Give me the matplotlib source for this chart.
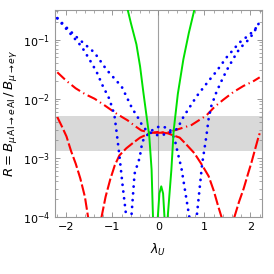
import numpy as np
import matplotlib
matplotlib.use("Agg")
import matplotlib.pyplot as plt
from matplotlib.ticker import LogLocator, MultipleLocator, NullFormatter

# red long dash
lam_dash = [-2.2, -2.1, -2.0, -1.9, -1.8, -1.7, -1.6, -1.5, -1.45, -1.39, -1.33, -1.25,
            -1.15, -1.05, -0.95, -0.85, -0.7, -0.55, -0.4, -0.2, 0.0, 0.2, 0.46, 0.6,
            0.78, 0.95, 1.09, 1.2, 1.3, 1.37, 1.45, 1.51, 1.58, 1.65, 1.75, 1.85, 1.95,
            2.02, 2.1, 2.17, 2.2]
r_dash = [4.9e-3, 3.4e-3, 2.3e-3, 1.3e-3, 8.0e-4, 4.5e-4, 2.2e-4, 7e-5, 2.5e-5, 3e-6,
          2.5e-5, 9e-5, 2.2e-4, 4.3e-4, 7.5e-4, 1.1e-3, 1.45e-3, 1.8e-3, 2.2e-3, 2.6e-3,
          2.75e-3, 2.6e-3, 2.2e-3, 1.7e-3, 1.2e-3, 7.5e-4, 4.9e-4, 2.8e-4, 1.5e-4, 1e-4,
          2.5e-5, 3e-6, 3e-5, 1e-4, 1.8e-4, 3e-4, 5.5e-4, 8.3e-4, 1.4e-3, 2.2e-3, 2.6e-3]

# red dash-dot
lam_dd = [-2.2, -2.0, -1.8, -1.6, -1.39, -1.2, -1.07, -0.9, -0.67, -0.5, -0.37, -0.2,
          0.0, 0.2, 0.4, 0.72, 1.04, 1.22, 1.4, 1.63, 1.85, 2.05, 2.2]
r_dd = [2.8e-2, 2.0e-2, 1.5e-2, 1.2e-2, 1.0e-2, 8e-3, 6.8e-3, 5.5e-3, 4.3e-3, 3.4e-3,
        2.9e-3, 2.7e-3, 2.65e-3, 2.7e-3, 3.0e-3, 3.6e-3, 5.2e-3, 7.3e-3, 9.5e-3,
        1.3e-2, 1.65e-2, 1.95e-2, 2.3e-2]

# blue dotted, steep one (two dips)
lam_blue1 = [-2.2, -2.0, -1.85, -1.67, -1.5, -1.35, -1.22, -1.07, -0.96, -0.91, -0.85,
             -0.78, -0.7, -0.64, -0.59, -0.52, -0.48, -0.41, -0.35, -0.2, -0.09, 0.02,
             0.13, 0.24, 0.35, 0.41, 0.5, 0.67, 0.75, 0.83, 0.95, 1.04, 1.09, 1.15,
             1.26, 1.37, 1.48, 1.63, 1.76, 1.96, 2.07, 2.13, 2.2]
r_blue1 = [0.23, 0.15, 0.11, 0.076, 0.046, 0.029, 0.017, 0.01, 5.4e-3, 2.7e-3, 1.1e-3,
           3.4e-4, 1e-4, 5e-6, 1e-4, 5.4e-4, 6.8e-4, 1e-3, 1.9e-3, 2.7e-3, 3.1e-3, 3.4e-3,
           3.3e-3, 3.1e-3, 2.1e-3, 1.3e-3, 6.6e-4, 1e-4, 5e-6, 1e-4, 8e-4, 2.3e-3, 4.6e-3,
           7.6e-3, 0.013, 0.02, 0.03, 0.048, 0.07, 0.1, 0.13, 0.16, 0.2]

# blue dotted, shallow one
lam_blue2 = [-2.2, -2.0, -1.78, -1.39, -1.13, -0.8, -0.57, -0.46, -0.35, -0.26, -0.1,
             0.0, 0.15, 0.3, 0.41, 0.52, 0.63, 0.83, 1.09, 1.26, 1.48, 1.63, 1.76, 1.91,
             2.07, 2.2]
r_blue2 = [0.23, 0.16, 0.11, 0.06, 0.031, 0.016, 6.8e-3, 5e-3, 3.5e-3, 2.9e-3, 2.5e-3,
           2.4e-3, 2.5e-3, 2.8e-3, 3.1e-3, 4.6e-3, 6.3e-3, 0.011, 0.02, 0.029, 0.05,
           0.068, 0.089, 0.11, 0.14, 0.19]

# green solid
lam_green = [-0.72, -0.67, -0.6, -0.48, -0.4, -0.33, -0.26, -0.2, -0.15, -0.12, -0.08,
             -0.015, 0.02, 0.06, 0.1, 0.13, 0.16, 0.2, 0.28, 0.33, 0.42, 0.54, 0.66,
             0.78, 0.83]
r_green = [0.5, 0.32, 0.19, 0.083, 0.035, 0.013, 5.1e-3, 2.3e-3, 6.3e-4, 1e-4, 1e-6,
           1e-4, 2.5e-4, 3.3e-4, 2.5e-4, 1e-4, 1e-6, 1e-4, 6.3e-4, 2.9e-3, 0.012,
           0.046, 0.13, 0.32, 0.5]

band_lo, band_hi = 1.3e-3, 5.1e-3

fig = plt.figure(figsize=(2.74, 2.74), dpi=100)
ax = fig.add_axes([0.2007, 0.208, 0.7555, 0.7555])

ax.axhspan(band_lo, band_hi, color="#d9d9d9", lw=0, zorder=0)
ax.axvline(0, color="#a0a0a0", lw=0.8, zorder=1)

ax.plot(lam_dash, r_dash, color="#ff0000", lw=1.5, dashes=(5.5, 1.4), zorder=3)
ax.plot(lam_dd, r_dd, color="#ff0000", lw=1.5, dashes=(5.0, 1.8, 0.6, 1.8), zorder=3)
ax.plot(lam_blue1, r_blue1, color="#0000ff", lw=2.0, dashes=(0.05, 2.4),
        dash_capstyle="round", zorder=4)
ax.plot(lam_blue2, r_blue2, color="#0000ff", lw=2.0, dashes=(0.05, 2.4),
        dash_capstyle="round", zorder=4)
ax.plot(lam_green, r_green, color="#00e000", lw=1.4, zorder=5)

ax.set_yscale("log")
ax.set_xlim(-2.25, 2.25)
ax.set_ylim(1e-4, 10 ** -0.5)

ax.xaxis.set_minor_locator(MultipleLocator(0.2))
ax.yaxis.set_major_locator(LogLocator(base=10, numticks=10))
ax.yaxis.set_minor_locator(LogLocator(base=10, subs=np.arange(2, 10), numticks=20))
ax.yaxis.set_minor_formatter(NullFormatter())
ax.set_xticks([-2, -1, 0, 1, 2])
ax.set_xticklabels(["\u22122", "\u22121", "0", "1", "2"])

ax.tick_params(which="both", direction="in", top=True, right=True,
               color="#888888", labelsize=8)
ax.tick_params(which="major", length=3.5, width=0.6)
ax.tick_params(which="minor", length=2, width=0.5)
for s in ax.spines.values():
    s.set_color("#999999")
    s.set_linewidth(0.8)

ax.set_xlabel(r"$\lambda_U$", fontsize=9, labelpad=7)
ax.set_ylabel(r"$R = B_{\mu\,\mathrm{Al}\to e\,\mathrm{Al}}\,/\,B_{\mu\to e\gamma}$",
              fontsize=9.5, labelpad=3)

fig.savefig("out.png", dpi=100)
